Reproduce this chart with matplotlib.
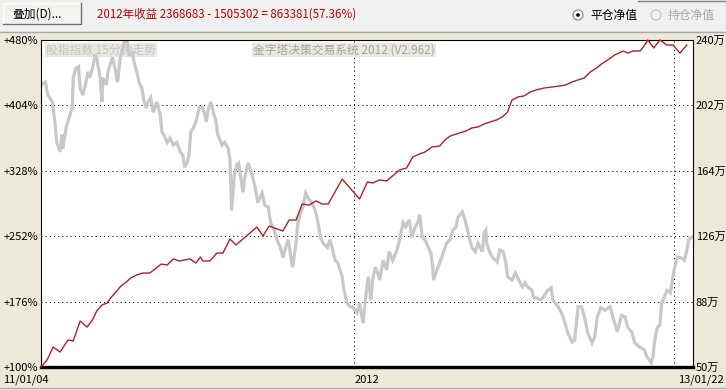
from __future__ import annotations

import matplotlib

matplotlib.use("Agg")
import matplotlib.pyplot as plt
from matplotlib.patches import Circle, Rectangle

plt.rcParams["font.family"] = ["Noto Sans CJK SC", "DejaVu Sans"]

# ---------------------------------------------------------------------------
# Data (x = calendar days since 2011-01-04)
# ---------------------------------------------------------------------------

# index 15-min trend, scaled to the left axis (%)
idx_day = [1, 5, 8, 13, 16, 18, 22, 24, 25, 29, 32, 36, 37, 40, 43, 45, 48, 51, 54, 56,
           60, 62, 64, 68, 70, 71, 75, 77, 82, 85, 88, 91, 94, 96, 99, 101, 105, 107, 110, 113,
           116, 118, 121, 123, 126, 129, 131, 133, 137, 139, 141, 145, 148, 152, 156, 160, 163, 165, 168, 170,
           172, 175, 178, 182, 186, 190, 192, 195, 198, 201, 203, 208, 211, 215, 217, 219, 222, 225, 227, 232,
           234, 238, 242, 246, 249, 254, 257, 261, 264, 268, 271, 275, 278, 281, 284, 288, 289, 293, 295, 298,
           301, 304, 307, 311, 315, 317, 321, 324, 329, 332, 335, 338, 341, 346, 348, 352, 355, 358, 363, 366,
           370, 373, 376, 379, 381, 384, 387, 389, 393, 397, 400, 404, 409, 411, 416, 419, 423, 426, 430, 433,
           435, 438, 441, 445, 448, 450, 451, 455, 458, 462, 466, 470, 473, 477, 479, 484, 487, 489, 492, 495,
           499, 502, 507, 509, 511, 512, 516, 519, 524, 527, 531, 534, 536, 541, 545, 548, 553, 556, 559, 564,
           566, 570, 574, 577, 582, 586, 588, 594, 598, 602, 605, 610, 613, 617, 621, 625, 628, 633, 636, 639,
           643, 648, 654, 657, 662, 667, 671, 674, 679, 682, 688, 693, 696, 701, 703, 705, 708, 711, 713, 716,
           719, 723, 726, 728, 731, 735, 739, 742, 744, 748]
idx_pct = [428, 431, 416, 408, 385, 361, 350, 370, 354, 379, 389, 402, 436, 447, 449, 424, 416, 428, 443, 436,
           451, 463, 459, 436, 408, 436, 428, 443, 460, 447, 431, 459, 471, 480, 478, 463, 465, 454, 443, 430,
           424, 410, 401, 408, 413, 396, 402, 408, 393, 373, 370, 361, 366, 358, 361, 350, 346, 332, 338, 346,
           373, 378, 385, 402, 401, 385, 399, 408, 396, 385, 370, 358, 361, 354, 341, 282, 323, 335, 337, 303,
           320, 337, 325, 309, 291, 302, 288, 286, 267, 259, 248, 239, 227, 239, 248, 221, 216, 244, 267, 279,
           286, 302, 296, 291, 282, 274, 251, 244, 239, 248, 236, 224, 221, 205, 189, 174, 170, 170, 163, 174,
           151, 181, 205, 178, 201, 216, 209, 201, 224, 213, 234, 224, 236, 244, 268, 263, 271, 251, 263, 268,
           277, 251, 248, 239, 232, 216, 201, 213, 221, 232, 244, 248, 259, 263, 274, 280, 271, 263, 250, 239,
           234, 244, 234, 256, 259, 244, 232, 227, 222, 236, 234, 221, 205, 201, 209, 203, 193, 198, 193, 189,
           181, 180, 178, 181, 189, 192, 178, 170, 163, 151, 140, 129, 131, 170, 170, 155, 140, 128, 135, 158,
           169, 166, 170, 158, 141, 160, 158, 146, 140, 128, 123, 120, 112, 105, 112, 131, 146, 149, 174, 181,
           189, 186, 205, 216, 228, 227, 224, 236, 248, 251]

# closed-position equity, 万 (right axis)
eq_day = [0, 3, 7, 14, 22, 31, 37, 45, 53, 59, 64, 70, 76, 80, 86, 92, 98, 103, 110, 117,
          125, 131, 138, 145, 152, 159, 165, 171, 178, 183, 186, 194, 202, 209, 217, 224, 248, 255, 262, 278,
          285, 293, 300, 308, 316, 323, 330, 346, 361, 366, 375, 381, 389, 397, 412, 420, 427, 435, 441, 449,
          458, 464, 470, 481, 488, 495, 502, 509, 516, 523, 530, 536, 541, 548, 555, 562, 569, 578, 587, 596,
          603, 610, 617, 624, 631, 638, 644, 651, 659, 669, 674, 680, 688, 692, 697, 704, 711, 719, 726, 734, 742]
eq_wan = [50.0, 51.7, 54.1, 61.6, 58.7, 65.7, 65.1, 76.7, 73.2, 77.3, 82.5, 86.0, 87.2, 90.1, 93.6, 97.1,
          99.4, 101.7, 103.5, 104.6, 104.6, 106.9, 109.8, 109.3, 112.8, 111.6, 112.2, 112.8, 110.4, 113.9,
          111.6, 111.6, 116.2, 116.2, 124.4, 120.9, 131.3, 126.1, 131.9, 129.0, 135.4, 135.4, 144.7, 144.1,
          146.5, 144.7, 144.7, 159.2, 150.5, 147.6, 157.5, 156.9, 158.7, 158.1, 164.5, 165.6, 172.0, 173.8,
          174.9, 177.8, 178.4, 181.9, 184.2, 186.0, 187.1, 188.9, 189.5, 191.2, 192.4, 193.5, 195.3, 198.2,
          205.1, 206.9, 207.5, 209.8, 211.0, 212.1, 212.7, 213.3, 213.9, 215.6, 216.8, 217.9, 221.4, 223.7,
          226.1, 228.4, 231.3, 233.6, 232.4, 233.6, 233.6, 235.9, 240.0, 235.4, 240.0, 237.1, 237.1, 232.4, 237.1]

left_ticks = [100, 176, 252, 328, 404, 480]
left_labels = ["+100%", "+176%", "+252%", "+328%", "+404%", "+480%"]
right_ticks = [50, 88, 126, 164, 202, 240]
right_labels = ["50万", "88万", "126万", "164万", "202万", "240万"]
grid_days = [360, 727]
date_labels = ["11/01/04", "2012", "13/01/22"]

title_text = "2012年收益 2368683 - 1505302 = 863381(57.36%)"
index_caption = "股指指数 15分钟走势"
system_caption = "金字塔决策交易系统 2012 (V2.962)"

# ---------------------------------------------------------------------------
# Layout
# ---------------------------------------------------------------------------

W, H = 726, 390
PANEL = "#ECE9D8"
FS = 8

fig = plt.figure(figsize=(W / 100, H / 100), dpi=100, facecolor=PANEL)

# pixel-space layer for the window chrome
ui = fig.add_axes([0, 0, 1, 1])
ui.set_xlim(0, W)
ui.set_ylim(H, 0)
ui.axis("off")

ui.add_patch(Rectangle((0, 0), W, 31, facecolor="#F0F0F0", edgecolor="none"))
ui.plot([0, W], [31.5, 31.5], color="#A8A8A8", lw=1)
ui.plot([0, W], [387.5, 387.5], color="#B0B0B0", lw=1)
ui.plot([638, W], [0.5, 0.5], color="#808080", lw=1)

# "叠加" button
ui.add_patch(Rectangle((3, 3), 78, 21, facecolor="#F4F3EE", edgecolor="#FFFFFF", lw=1))
ui.plot([3, 81, 81], [24, 24, 3], color="#707070", lw=1)
ui.text(12, 14, "叠加(D)...", fontsize=8.5, color="black", va="center", ha="left")

ui.text(97, 14, title_text, fontsize=8.3, color="#C00000", va="center", ha="left")

# radio buttons
ui.add_patch(Circle((578, 15), 5, facecolor="white", edgecolor="#808080", lw=0.8))
ui.add_patch(Circle((578, 15), 1.8, facecolor="black", edgecolor="none"))
ui.text(590, 15, "平仓净值", fontsize=8.5, color="black", va="center", ha="left")
ui.add_patch(Circle((656, 15), 5, facecolor="#F0F0F0", edgecolor="#C0C0C0", lw=0.8))
ui.text(668, 15, "持仓净值", fontsize=8.5, color="#A8A8A8", va="center", ha="left")

# ---------------------------------------------------------------------------
# Plot area
# ---------------------------------------------------------------------------

ax = fig.add_axes([41 / W, 1 - 367 / H, (693 - 41) / W, (367 - 40) / H])
ax.set_facecolor("white")
ax.set_xlim(0, 749)
ax.set_ylim(left_ticks[0], left_ticks[-1])
ax.set_xticks([])
ax.set_yticks(left_ticks)
ax.set_yticklabels(left_labels)
ax.tick_params(axis="y", length=0, pad=2, labelsize=FS)

for v in left_ticks[1:-1]:
    ax.axhline(v, color="black", lw=0.75, ls=(0, (1, 3)), zorder=1)
for d in grid_days:
    ax.axvline(d, color="black", lw=0.75, ls=(0, (1, 3)), zorder=1)

for side in ("top", "left", "right"):
    ax.spines[side].set_linewidth(0.8)
ax.spines["bottom"].set_linewidth(2.4)

# captions sit under the index trace
ax.text(46, 50, index_caption, transform=ui.transData, fontsize=8.5, color="#C4C4C4",
        va="center", ha="left", zorder=1.5, clip_on=False,
        bbox=dict(facecolor="#EAE8DC", edgecolor="none", pad=0.6))
ax.text(253, 50, system_caption, transform=ui.transData, fontsize=8.5, color="#A4A4A4",
        va="center", ha="left", zorder=1.5, clip_on=False,
        bbox=dict(facecolor="#EAE8DC", edgecolor="none", pad=0.6))

ax.plot(idx_day, idx_pct, color="#C8C8C8", lw=2.3, zorder=2, solid_joinstyle="miter")

ax2 = ax.twinx()
ax2.set_ylim(right_ticks[0], right_ticks[-1])
ax2.set_yticks(right_ticks)
ax2.set_yticklabels(right_labels)
ax2.tick_params(axis="y", length=0, pad=2, labelsize=FS)
for side in ax2.spines:
    ax2.spines[side].set_visible(False)
ax2.plot(eq_day, eq_wan, color="#A8242A", lw=1.0, clip_on=False)

# date labels under the axis
xt = ax.get_xaxis_transform()
ui.text(3, 380, date_labels[0], fontsize=FS, va="center", ha="left")
ax.text(grid_days[0], -0.04, date_labels[1], transform=xt, fontsize=FS,
        va="center", ha="left", clip_on=False)
ui.text(724, 380, date_labels[2], fontsize=FS, va="center", ha="right")

fig.savefig("out.png", dpi=100, facecolor=PANEL)
